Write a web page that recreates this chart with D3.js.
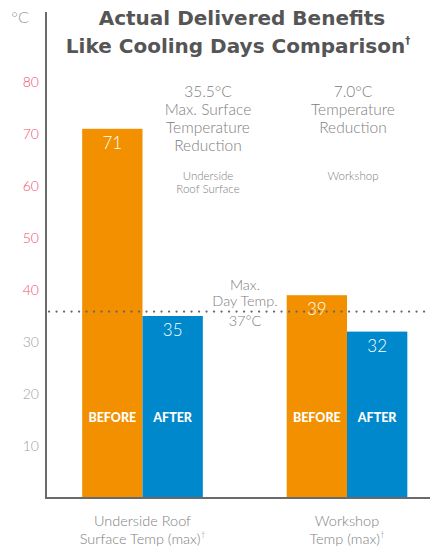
<!DOCTYPE html>
<html>
<head>
<meta charset="utf-8">
<script src="https://cdn.jsdelivr.net/npm/d3@7"></script>
<style>
  html, body { margin: 0; padding: 0; background: #fff; }
  svg { display: block; }
  text { font-family: Lato, "Open Sans", sans-serif; }
  text.title { font-family: "DejaVu Sans", sans-serif; }
</style>
</head>
<body>
<div id="chart"></div>
<script>
// data
const categories = ["Underside Roof Surface", "Workshop"];
const series = ["BEFORE", "AFTER"];
const beforeValues = [71, 39];
const afterValues = [35, 32];
const yTicks = [10, 20, 30, 40, 50, 60, 70, 80];
const maxDayTemp = 37;
const categoryLabels = [["Underside Roof", "Surface Temp (max)"], ["Workshop", "Temp (max)"]];
const reductionNotes = [
    ["35.5°C", "Max. Surface", "Temperature", "Reduction"],
    ["7.0°C", "Temperature", "Reduction"]
];
const reductionSub = [["Underside", "Roof Surface"], ["Workshop"]];

const width = 430;
const height = 551;
const colors = { BEFORE: "#f39000", AFTER: "#0088cc" };
const grey = "#808080";

const svg = d3.select("#chart")
    .append("svg")
    .attr("width", width)
    .attr("height", height);

// scales
const y = d3.scaleLinear().domain([0, 80]).range([498, 82]);
const x = d3.scaleBand()
    .domain(categories)
    .range([40.25, 449.25])
    .paddingInner(0.41)
    .paddingOuter(0.205);
const xs = d3.scaleBand().domain(series).range([0, x.bandwidth()]);

const rows = categories.map((c, i) => ({
    cat: c,
    values: [
        { key: "BEFORE", value: beforeValues[i] },
        { key: "AFTER", value: afterValues[i] }
    ]
}));

// title
svg.append("text")
    .attr("class", "title")
    .attr("x", 242).attr("y", 25)
    .attr("text-anchor", "middle")
    .attr("fill", "#555")
    .attr("font-size", 20)
    .attr("font-weight", "bold")
    .text("Actual Delivered Benefits");
const title2 = svg.append("text")
    .attr("class", "title")
    .attr("x", 238).attr("y", 53)
    .attr("text-anchor", "middle")
    .attr("fill", "#555")
    .attr("font-size", 20)
    .attr("font-weight", "bold");
title2.append("tspan").text("Like Cooling Days Comparison");
title2.append("tspan").attr("font-size", 10).attr("dy", -9).text("†");

svg.append("text")
    .attr("x", 20).attr("y", 23)
    .attr("text-anchor", "middle")
    .attr("fill", "#999")
    .attr("font-size", 16)
    .attr("font-weight", 300)
    .text("°C");

// bars
const groups = svg.append("g")
    .selectAll("g")
    .data(rows)
    .join("g")
    .attr("transform", d => `translate(${x(d.cat)},0)`);

groups.selectAll("rect")
    .data(d => d.values)
    .join("rect")
    .attr("x", d => xs(d.key))
    .attr("y", d => y(d.value))
    .attr("width", xs.bandwidth())
    .attr("height", d => y(0) - y(d.value))
    .attr("fill", d => colors[d.key]);

groups.selectAll("text.val")
    .data(d => d.values)
    .join("text")
    .attr("class", "val")
    .attr("x", d => xs(d.key) + xs.bandwidth() / 2)
    .attr("y", d => y(d.value) + 20)
    .attr("text-anchor", "middle")
    .attr("fill", "#fff")
    .attr("font-size", 17)
    .attr("font-weight", 300)
    .text(d => d.value);

groups.selectAll("text.lab")
    .data(d => d.values)
    .join("text")
    .attr("class", "lab")
    .attr("x", d => xs(d.key) + xs.bandwidth() / 2)
    .attr("y", 422)
    .attr("text-anchor", "middle")
    .attr("fill", "#fff")
    .attr("font-size", 12.5)
    .attr("font-weight", 900)
    .text(d => d.key);

// axes
svg.append("line")
    .attr("x1", 46).attr("x2", 46)
    .attr("y1", 12).attr("y2", y(0))
    .attr("stroke", "#6a6a6a").attr("stroke-width", 2);
svg.append("line")
    .attr("x1", 45).attr("x2", width)
    .attr("y1", y(0)).attr("y2", y(0))
    .attr("stroke", "#6a6a6a").attr("stroke-width", 2);

svg.append("g")
    .selectAll("text")
    .data(yTicks)
    .join("text")
    .attr("x", 39)
    .attr("y", d => y(d))
    .attr("dy", "0.35em")
    .attr("text-anchor", "end")
    .attr("fill", d => d >= 40 ? "#f0506e" : "#a0a0a0")
    .attr("font-size", 14)
    .attr("font-weight", 300)
    .text(d => d);

// max day temp line
const yRef = y(maxDayTemp) + 6;
svg.append("line")
    .attr("x1", 49).attr("x2", 428)
    .attr("y1", yRef).attr("y2", yRef)
    .attr("stroke", "#666")
    .attr("stroke-width", 2.2)
    .attr("stroke-linecap", "round")
    .attr("stroke-dasharray", "0.1,7.4");

svg.append("g")
    .selectAll("text")
    .data(["Max.", "Day Temp.", maxDayTemp + "°C"])
    .join("text")
    .attr("x", 245)
    .attr("y", (d, i) => [290, 306, 326][i])
    .attr("text-anchor", "middle")
    .attr("fill", grey)
    .attr("font-size", 14.5)
    .attr("font-weight", 300)
    .text(d => d);

// reduction notes
const noteX = [208, 353];
reductionNotes.forEach((lines, i) => {
    svg.append("g")
        .selectAll("text")
        .data(lines)
        .join("text")
        .attr("x", noteX[i])
        .attr("y", (d, j) => 97 + j * 18)
        .attr("text-anchor", "middle")
        .attr("fill", grey)
        .attr("font-size", 15.5)
        .attr("font-weight", 300)
        .text(d => d);
    svg.append("g")
        .selectAll("text")
        .data(reductionSub[i])
        .join("text")
        .attr("x", noteX[i])
        .attr("y", (d, j) => 180 + j * 13)
        .attr("text-anchor", "middle")
        .attr("fill", grey)
        .attr("font-size", 11.5)
        .attr("font-weight", 300)
        .text(d => d);
});

// category labels
categoryLabels.forEach((lines, i) => {
    const t = svg.append("g")
        .selectAll("text")
        .data(lines)
        .join("text")
        .attr("x", x(categories[i]) + x.bandwidth() / 2)
        .attr("y", (d, j) => 526 + j * 18)
        .attr("text-anchor", "middle")
        .attr("fill", grey)
        .attr("font-size", 14.5)
        .attr("font-weight", 300);
    t.append("tspan").text(d => d);
    t.filter((d, j) => j === 1)
        .append("tspan")
        .attr("font-size", 8)
        .attr("dy", -7)
        .text("†");
});
</script>
</body>
</html>
